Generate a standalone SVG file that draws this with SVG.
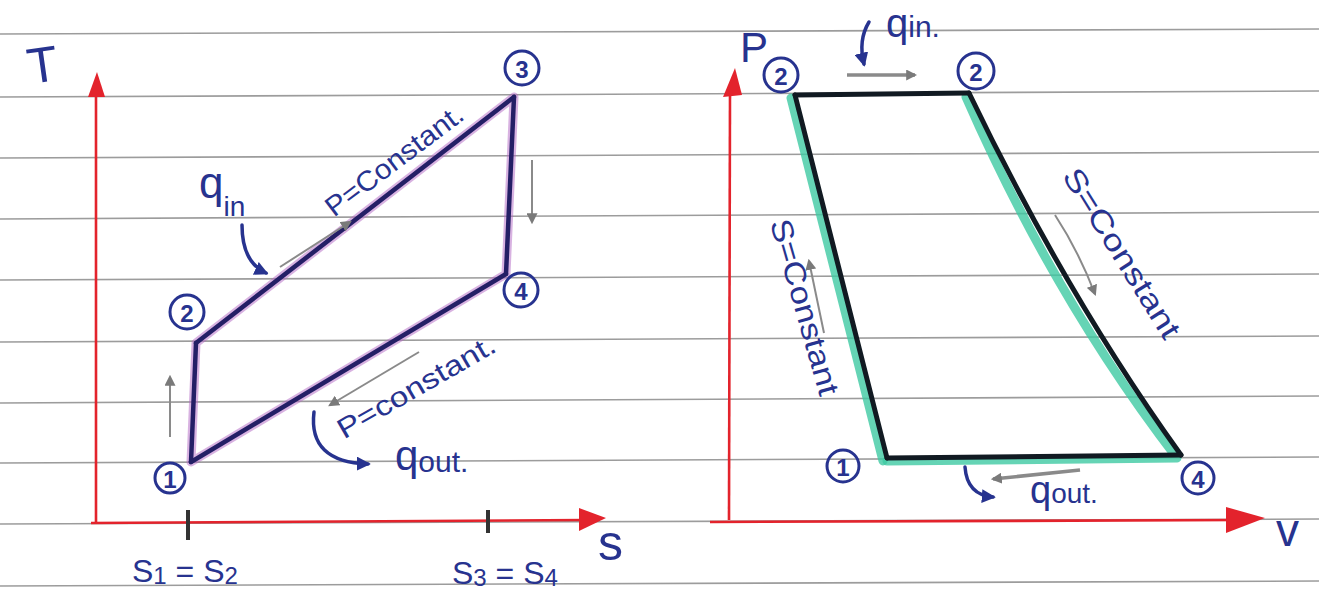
<svg xmlns="http://www.w3.org/2000/svg" width="1319" height="592" viewBox="0 0 1319 592">
<style>
.paper{stroke:#9c9c9c;stroke-width:1.6;fill:none}
.axis{stroke:#e3232c;stroke-width:2.6;fill:none}
.axhead{fill:#e3232c}
.tick{stroke:#333;stroke-width:4}
.ts-under{stroke:#b266c4;stroke-width:9;stroke-opacity:0.5;fill:none;stroke-linejoin:round;stroke-linecap:round}
.ts-edge{stroke:#241f66;stroke-width:4.5;fill:none;stroke-linejoin:round;stroke-linecap:round}
.pv-under{stroke:#3ec9a2;stroke-width:9;stroke-opacity:0.8;fill:none;stroke-linejoin:round;stroke-linecap:round}
.pv-edge{stroke:#111a22;stroke-width:5;fill:none;stroke-linejoin:round;stroke-linecap:round}
.garrow{stroke:#8a8a8a;stroke-width:2;fill:none;marker-end:url(#ga)}
.narrow{stroke:#27338f;stroke-width:3.5;fill:none;stroke-linecap:round;marker-end:url(#na)}
.ring{stroke:#27338f;stroke-width:3;fill:none}
.num{fill:#27338f;font-family:'Liberation Sans',sans-serif;font-size:24px;font-weight:bold;text-anchor:middle;dominant-baseline:central}
.lbl{fill:#27338f;font-family:'Liberation Sans',sans-serif}
</style>
<defs>
<marker id="ga" viewBox="0 0 10 10" refX="8" refY="5" markerWidth="11" markerHeight="11" markerUnits="userSpaceOnUse" orient="auto"><path d="M0,0 L10,5 L0,10 z" fill="#7a7a7a"/></marker>
<marker id="na" viewBox="0 0 10 10" refX="8" refY="5" markerWidth="14" markerHeight="14" markerUnits="userSpaceOnUse" orient="auto"><path d="M0,0 L10,5 L0,10 z" fill="#27338f"/></marker>
</defs>
<rect width="1319" height="592" fill="#ffffff"/>
<g id="paper-lines">
<line class="paper" x1="0" y1="34" x2="1319" y2="29"/>
<line class="paper" x1="0" y1="97" x2="1319" y2="91"/>
<line class="paper" x1="0" y1="158" x2="1319" y2="152"/>
<line class="paper" x1="0" y1="219" x2="1319" y2="212"/>
<line class="paper" x1="0" y1="280" x2="1319" y2="274"/>
<line class="paper" x1="0" y1="342" x2="1319" y2="336"/>
<line class="paper" x1="0" y1="403" x2="1319" y2="396"/>
<line class="paper" x1="0" y1="463" x2="1319" y2="457"/>
<line class="paper" x1="0" y1="524" x2="1319" y2="519"/>
<line class="paper" x1="0" y1="586" x2="1319" y2="581"/>
</g>
<g id="ts-axes">
<line class="axis" x1="96" y1="524" x2="96" y2="92"/>
<polygon class="axhead" points="97,72 88,97 105,97"/>
<line class="axis" x1="91" y1="523" x2="585" y2="520"/>
<polygon class="axhead" points="606,518 579,508 579,531"/>
<line class="tick" x1="188" y1="510" x2="188" y2="540"/>
<line class="tick" x1="488" y1="510" x2="488" y2="533"/>
<text class="lbl" x="42" y="82" font-size="50" text-anchor="middle" transform="rotate(-8 42 62)">T</text>
<text class="lbl" x="598" y="560" font-size="50">s</text>
<text class="lbl" x="132" y="582" font-size="32">S<tspan font-size="24" dy="2">1</tspan><tspan dy="-2"> = S</tspan><tspan font-size="24" dy="2">2</tspan></text>
<text class="lbl" x="452" y="584" font-size="32">S<tspan font-size="24" dy="2">3</tspan><tspan dy="-2"> = S</tspan><tspan font-size="24" dy="2">4</tspan></text>
</g>
<g id="pv-axes">
<line class="axis" x1="729" y1="520" x2="730" y2="92"/>
<polygon class="axhead" points="735,68 723,97 742,95"/>
<line class="axis" x1="710" y1="522" x2="1240" y2="520"/>
<polygon class="axhead" points="1265,518 1226,507 1226,533"/>
<text class="lbl" x="740" y="62" font-size="42">P</text>
<text class="lbl" x="1276" y="546" font-size="46">v</text>
</g>
<g id="connectors">
<path class="ts-under" d="M191,462 L196,343 L514,97 L506,274 Z"/>
<path class="ts-edge" d="M191,462 L196,343"/>
<path class="ts-edge" d="M196,343 L514,97"/>
<path class="ts-edge" d="M514,97 L506,274"/>
<path class="ts-edge" d="M506,274 L191,462"/>
<path class="pv-under" d="M791,98 L883,461"/>
<path class="pv-under" d="M966,97 Q1054,298 1177,458 L887,461"/>
<path class="pv-edge" d="M795,95 L969,93"/>
<path class="pv-edge" d="M969,93 Q1066,295 1181,455"/>
<path class="pv-edge" d="M1181,455 L887,458"/>
<path class="pv-edge" d="M887,458 L795,95"/>
<line class="garrow" x1="280" y1="267" x2="350" y2="222"/>
<line class="garrow" x1="532" y1="160" x2="532" y2="222"/>
<line class="garrow" x1="170" y1="437" x2="170" y2="377"/>
<line class="garrow" x1="419" y1="352" x2="330" y2="405"/>
<line class="garrow" x1="847" y1="75" x2="915" y2="75" style="stroke-width:3.5"/>
<line class="garrow" x1="824" y1="333" x2="809" y2="261"/>
<path class="garrow" d="M1055,215 Q1078,250 1095,294"/>
<line class="garrow" x1="1080" y1="470" x2="993" y2="479" style="stroke-width:3.5"/>
<path class="narrow" d="M242,225 Q242,262 266,273"/>
<path class="narrow" d="M314,412 Q308,462 368,464"/>
<path class="narrow" d="M869,22 Q858,40 864,64"/>
<path class="narrow" d="M965,467 Q967,495 993,497"/>
</g>
<g id="labels">
<text class="lbl" font-size="28" text-anchor="middle" transform="translate(400,168) rotate(-37)" textLength="165" lengthAdjust="spacingAndGlyphs">P=Constant.</text>
<text class="lbl" font-size="28" text-anchor="middle" transform="translate(421,395) rotate(-30)" textLength="178" lengthAdjust="spacingAndGlyphs">P=constant.</text>
<text class="lbl" x="199" y="198" font-size="44">q<tspan font-size="28" dy="18">in</tspan></text>
<text class="lbl" x="395" y="470" font-size="42">q<tspan font-size="30" dy="2">out.</tspan></text>
<text class="lbl" x="886" y="37" font-size="40">q<tspan font-size="30">in.</tspan></text>
<text class="lbl" x="1030" y="503" font-size="38">q<tspan font-size="28">out.</tspan></text>
<text class="lbl" font-size="30" text-anchor="middle" dominant-baseline="central" transform="translate(1122,253) rotate(58)" textLength="195" lengthAdjust="spacingAndGlyphs">S=Constant</text>
<text class="lbl" font-size="30" text-anchor="middle" dominant-baseline="central" transform="translate(805,307) rotate(74)" textLength="182" lengthAdjust="spacingAndGlyphs">S=Constant</text>
</g>
<g id="ts-state-1"><circle class="ring" cx="170" cy="478" r="15"/><text class="num" x="170" y="479">1</text></g>
<g id="ts-state-2"><circle class="ring" cx="187" cy="312" r="17"/><text class="num" x="187" y="313">2</text></g>
<g id="ts-state-3"><circle class="ring" cx="522" cy="68" r="17"/><text class="num" x="522" y="69">3</text></g>
<g id="ts-state-4"><circle class="ring" cx="521" cy="290" r="17"/><text class="num" x="521" y="291">4</text></g>
<g id="pv-state-tl"><circle class="ring" cx="781" cy="75" r="17"/><text class="num" x="781" y="76">2</text></g>
<g id="pv-state-tr"><circle class="ring" cx="976" cy="71" r="18"/><text class="num" x="976" y="72">2</text></g>
<g id="pv-state-1"><circle class="ring" cx="843" cy="466" r="16"/><text class="num" x="843" y="467">1</text></g>
<g id="pv-state-4"><circle class="ring" cx="1198" cy="478" r="16"/><text class="num" x="1198" y="479">4</text></g>
</svg>
